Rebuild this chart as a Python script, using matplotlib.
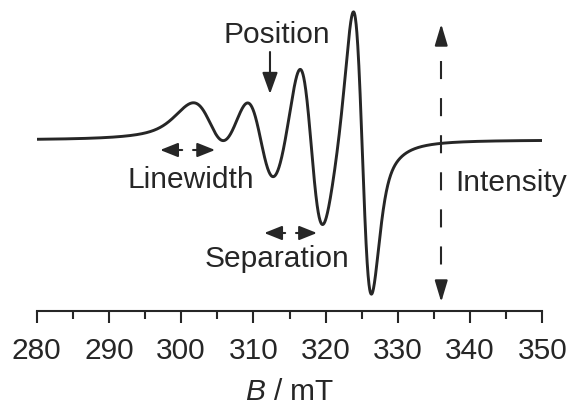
import numpy as np
import matplotlib
matplotlib.use("Agg")
import matplotlib.pyplot as plt

plt.rcParams['font.family'] = ['Liberation Sans', 'DejaVu Sans']
plt.rcParams['mathtext.fontset'] = 'custom'
plt.rcParams['mathtext.rm'] = 'Liberation Sans'
plt.rcParams['mathtext.it'] = 'Liberation Sans:italic'
plt.rcParams['lines.scale_dashes'] = False

# ---- spectrum data: four derivative lines ----
line_position_mT = [304.25, 311.05, 318.01, 325.08]
line_width_mT = [5.52, 4.44, 3.43, 2.54]        # peak-to-peak width
line_height = [62.0, 107.3, 180.6, 292.2]       # peak-to-peak height
lorentz_fraction = 0.614

field_min, field_max = 280, 350
major_ticks = [280, 290, 300, 310, 320, 330, 340, 350]
minor_ticks = [285, 295, 305, 315, 325, 335, 345]
x_label = r"$\mathit{B}$ / mT"

INK = '#262626'
FS = 21.5

B = np.linspace(field_min, field_max, 2801)
signal = np.zeros_like(B)
for c, w, h in zip(line_position_mT, line_width_mT, line_height):
    u = (B - c) / (w * np.sqrt(3) / 2)
    lor = -2 * u / (1 + u ** 2) ** 2 / (2 * 0.6495)
    z = (B - c) / (w / 2)
    gau = -z * np.exp(-z ** 2 / 2) / (2 * 0.60653)
    signal += h * (lorentz_fraction * lor + (1 - lorentz_fraction) * gau)

W, H = 568, 407
fig = plt.figure(figsize=(W / 100, H / 100), dpi=100)
ax = fig.add_axes([36.6 / W, (H - 311) / H, (542.4 - 36.6) / W, 311 / H])
ax.set_xlim(field_min, field_max)
ax.set_ylim(-171, 140)

ax.plot(B, signal, color=INK, lw=2.1, solid_capstyle='butt', zorder=3)

for s in ['top', 'left', 'right']:
    ax.spines[s].set_visible(False)
ax.spines['bottom'].set_color(INK)
ax.spines['bottom'].set_linewidth(1.5)
ax.set_yticks([])
ax.set_xticks(major_ticks)
ax.set_xticks(minor_ticks, minor=True)
ax.tick_params(axis='x', which='major', length=8.4, width=1.5, color=INK,
               labelsize=FS, labelcolor=INK, pad=10)
ax.tick_params(axis='x', which='minor', length=5.5, width=1.5, color=INK)
ax.set_xlabel(x_label, fontsize=FS, color=INK, labelpad=10)


def head(tip, tail, size=10.8, hw=0.4):
    ax.annotate('', xy=tip, xytext=tail,
                arrowprops=dict(arrowstyle=f'-|>,head_length=1.0,head_width={hw}',
                                mutation_scale=size, color=INK, lw=1.5,
                                shrinkA=0, shrinkB=0), zorder=4)


def double_arrow(x0, x1, y, gap=0.75):
    xc = (x0 + x1) / 2
    head((x0, y), (xc - gap, y))
    head((x1, y), (xc + gap, y))


# Position
ax.text(313.3, 96.7, "Position", fontsize=FS, color=INK, ha='center', va='baseline')
head((312.3, 46), (312.3, 88), size=13, hw=0.36)

# Linewidth
double_arrow(297.1, 304.7, -10)
ax.text(301.3, -48, "Linewidth", fontsize=FS, color=INK, ha='center', va='baseline')

# Separation
double_arrow(311.5, 318.8, -93)
ax.text(313.3, -127, "Separation", fontsize=FS, color=INK, ha='center', va='baseline')

# Intensity
ax.plot([336.0, 336.0], [98, -144], color=INK, lw=1.5,
        linestyle=(13, (13, 13.7)), zorder=2)
head((336.0, 116), (336.0, 96), size=13, hw=0.3)
head((336.0, -162), (336.0, -142), size=13, hw=0.3)
ax.text(337.9, -51, "Intensity", fontsize=FS, color=INK, ha='left', va='baseline')

fig.savefig("out.png", dpi=100)
